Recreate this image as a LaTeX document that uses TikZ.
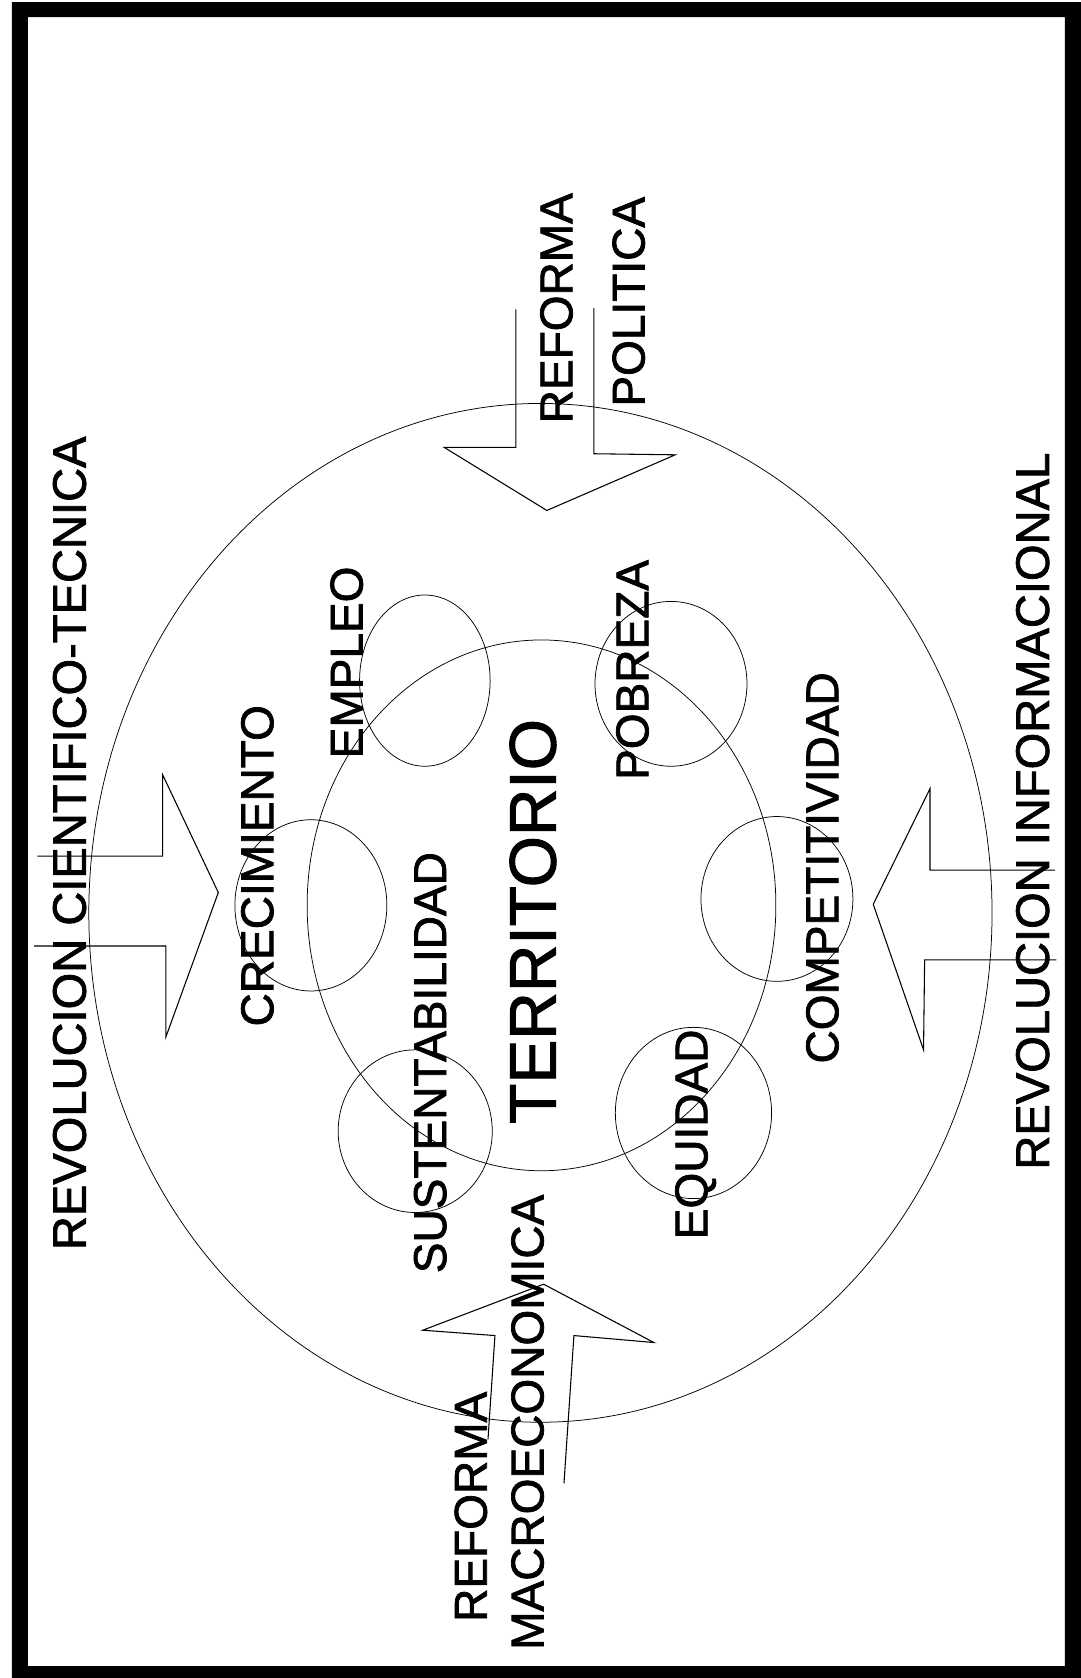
\documentclass[tikz,border=0pt]{standalone}
\usepackage{fontspec}
\setmainfont{Liberation Sans}[FakeBold=1.6]
\begin{document}
\begin{tikzpicture}[x=1pt,y=-1pt,
  lbl/.style={rotate=90,inner sep=0pt,font=\fontsize{43}{50}\selectfont},
  lblwide/.style={rotate=90,inner sep=0pt,font=\fontsize{44}{50}\selectfont},
  bigword/.style={rotate=90,inner sep=0pt,font=\fontsize{61.5}{70}\selectfont},
  ring/.style={draw,line width=0.7pt},
  blockarrow/.style={draw,line width=1pt,line join=miter}]
\useasboundingbox (0,0) rectangle (1010,1568);
\fill[white] (0,0) rectangle (1010,1568);
% frame
\fill[black,even odd rule] (11,2) rectangle (1010,1568) (26,16) rectangle (995,1557);
% big ellipse and inner circle
\draw[ring] (505,853) ellipse [x radius=422pt, y radius=476pt];
\draw[ring] (506,846) ellipse [x radius=219pt, y radius=248pt];
% small circles
\draw[ring] (397,636) ellipse [x radius=61pt, y radius=80pt];
\draw[ring] (627,639) ellipse [x radius=71pt, y radius=77pt];
\draw[ring] (290.5,846) ellipse [x radius=71pt, y radius=80pt];
\draw[ring] (726,840) ellipse [x radius=71pt, y radius=77pt];
\draw[ring] (388,1057) ellipse [x radius=72pt, y radius=76pt];
\draw[ring] (648,1040) ellipse [x radius=73pt, y radius=80pt];
% block arrows
\draw[blockarrow] (482,289) -- (482,418) -- (415,418) -- (511,477) -- (631,425) -- (555,424) -- (555,288);
\draw[blockarrow] (35,800) -- (152,800) -- (152,724) -- (204,834) -- (155,969) -- (155,884) -- (32,884);
\draw[blockarrow] (986,813) -- (869,813) -- (869,737) -- (816,845) -- (863,981) -- (864,897) -- (987,897);
\draw[blockarrow] (456,1345) -- (462.5,1248) -- (395,1243) -- (508,1200) -- (611,1254.5) -- (536.3,1248) -- (527,1386);
% labels
\node[lblwide] (rct) at (65,788) {REVOLUCION CIENTIFICO-TECNICA};
\node[lbl] (rp1) at (520,288) {REFORMA};
\node[lbl] (rp2) at (587.5,282) {POLITICA};
\node[lblwide] (ri) at (965,758) {REVOLUCION INFORMACIONAL};
\node[lbl] (rm1) at (440,1408) {REFORMA};
\node[lbl] (rm2) at (493,1329) {MACROECONOMICA};
\node[bigword] (terr) at (498,861) {TERRITORIO};
\node[lbl] (crec) at (240.5,809) {CRECIMIENTO};
\node[lbl] (emp) at (324,619) {EMPLEO};
\node[lbl] (sust) at (402,993) {SUSTENTABILIDAD};
\node[lbl] (pob) at (591,626) {POBREZA};
\node[lbl] (comp) at (768.5,811) {COMPETITIVIDAD};
\node[lbl] (equ) at (650,1060) {EQUIDAD};
\end{tikzpicture}
\end{document}
